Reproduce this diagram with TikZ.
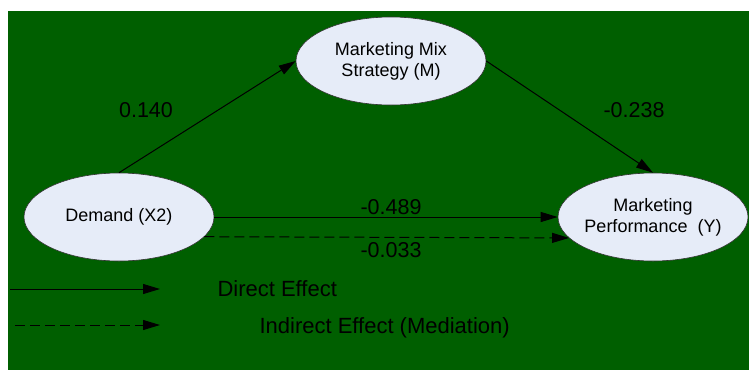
\documentclass[tikz,border=0pt]{standalone}
\usepackage{fontspec}
\setmainfont{Liberation Sans}
\usetikzlibrary{shapes.geometric,arrows.meta}

\definecolor{bggreen}{RGB}{0,95,0}
\definecolor{varfill}{RGB}{230,236,248}

\begin{document}
\begin{tikzpicture}[x=1pt,y=-1pt,
    var/.style={ellipse,draw=black!80,line width=0.6pt,fill=varfill,
        minimum width=190pt,minimum height=88pt,inner sep=0pt,inner xsep=-3pt,
        align=center,font=\fontsize{18}{21}\selectfont},
    effect/.style={line width=1pt,-{Triangle[length=17pt,width=10pt]}},
    mediated/.style={effect,dash pattern=on 10pt off 5pt},
    coef/.style={font=\fontsize{21.5}{24}\selectfont,anchor=base},
    legendtext/.style={font=\fontsize{22}{24}\selectfont,anchor=base west}]

        \useasboundingbox (0,0) rectangle (749,370);
        \fill[bggreen] (8,11) rectangle (749,370);

        % Variables
        \node[var] (M) at (391,61) {Marketing Mix\\Strategy (M)};
        \node[var] (X) at (119,217) {Demand (X2)};
        \node[var] (Y) at (653,217) {Marketing\\Performance~~(Y)};

        % Paths between variables
        \draw[effect] (X.north) -- (M.west);
        \draw[effect] (M.east) -- (Y.north);
        \draw[effect] (X.east) -- (Y.west);
        \draw[mediated] (X.-13) -- (Y.194);

        % Coefficients
        \node[coef] (a) at (146,117) {0.140};   % X -> M
        \node[coef] (b) at (634,117) {-0.238};  % M -> Y
        \node[coef] (c) at (391,214) {-0.489};  % X -> Y
        \node[coef] (ab) at (391,257) {-0.033}; % via M

        % Legend
        \coordinate (d0) at (10,289);
        \coordinate (d1) at (160,289);
        \draw[effect] (d0) -- (d1);
        \node[legendtext] (dlab) at (214,296) {Direct Effect};

        \coordinate (i0) at (15,325);
        \coordinate (i1) at (160,325);
        \draw[mediated] (i0) -- (i1);
        \node[legendtext] (ilab) at (256,333) {Indirect Effect (Mediation)};
    \end{tikzpicture}
\end{document}
